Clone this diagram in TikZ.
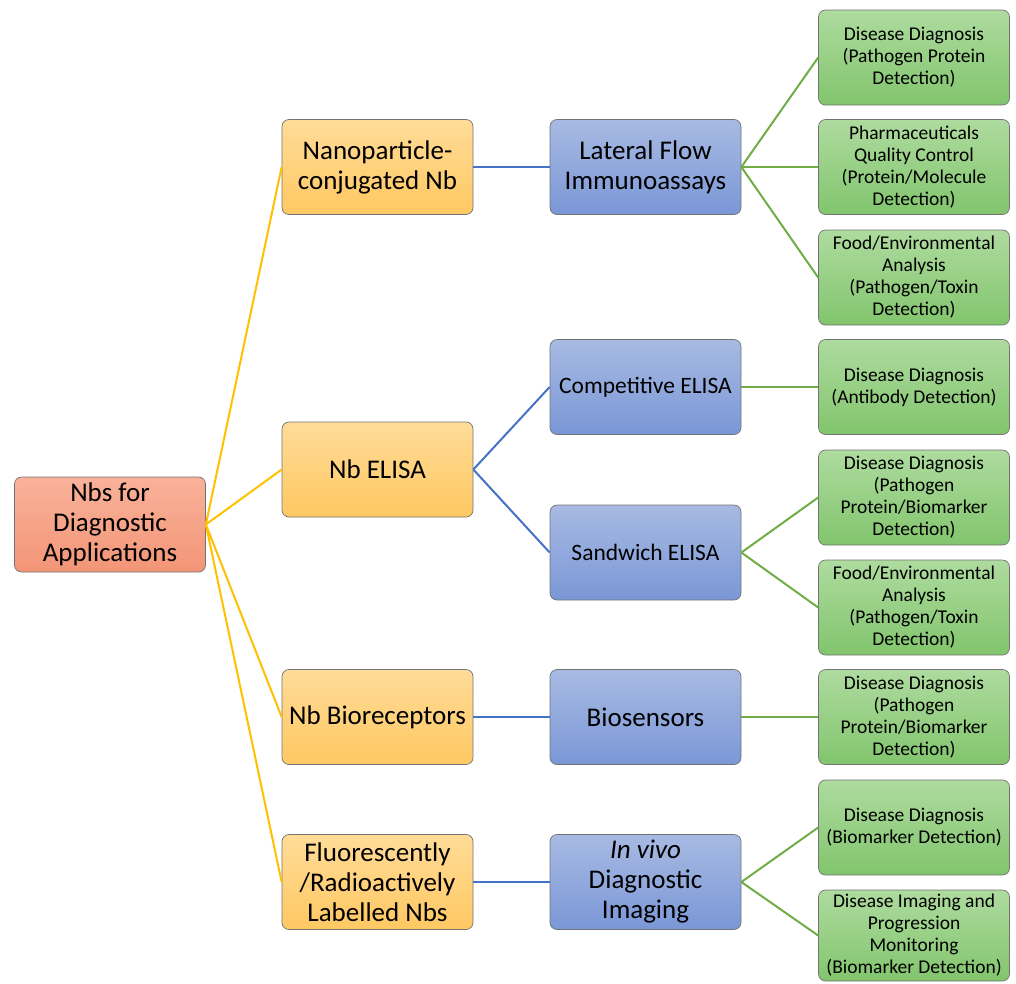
\documentclass[tikz,border=0pt]{standalone}
\usepackage{fontspec}
\setmainfont{Carlito}
\begin{document}
\begin{tikzpicture}[x=1pt,y=-1pt,
  box/.style={draw=black!55, line width=0.7pt, rounded corners=7pt, minimum width=191pt, minimum height=95pt, align=center, inner sep=1pt},
  rootbox/.style={box, top color=rootT, bottom color=rootB, font=\fontsize{27}{30}\selectfont},
  ybox/.style={box, top color=yelT, bottom color=yelB, font=\fontsize{27}{30}\selectfont},
  bbox/.style={box, top color=bluT, bottom color=bluB, font=\fontsize{27}{30}\selectfont},
  bboxs/.style={box, top color=bluT, bottom color=bluB, font=\fontsize{23.5}{28}\selectfont},
  gbox/.style={box, top color=grnT, bottom color=grnB, font=\fontsize{19.5}{22}\selectfont},
  yline/.style={draw=lineY, line width=2pt},
  bline/.style={draw=lineB, line width=2pt},
  gline/.style={draw=lineG, line width=2pt}
]
\definecolor{rootT}{HTML}{F9B29A}
\definecolor{rootB}{HTML}{F39577}
\definecolor{yelT}{HTML}{FFDC98}
\definecolor{yelB}{HTML}{FFC862}
\definecolor{bluT}{HTML}{A8BAE3}
\definecolor{bluB}{HTML}{7A97D6}
\definecolor{grnT}{HTML}{AEDB9F}
\definecolor{grnB}{HTML}{82C56D}
\definecolor{lineY}{HTML}{FFC000}
\definecolor{lineB}{HTML}{4472C4}
\definecolor{lineG}{HTML}{70AD47}
\useasboundingbox (0,0) rectangle (1016,983);

% root
\node[rootbox] (root) at (110,524.5) {Nbs for\\Diagnostic\\Applications};

% level 1
\node[ybox] (y1) at (377.5,167) {Nanoparticle-\\conjugated Nb};
\node[ybox] (y2) at (377.5,469.5) {Nb ELISA};
\node[ybox] (y3) at (377.5,717) {Nb Bioreceptors};
\node[ybox] (y4) at (377.5,882) {Fluorescently\\/Radioactively\\Labelled Nbs};

% level 2
\node[bbox] (b1) at (645.5,167) {Lateral Flow\\Immunoassays};
\node[bboxs] (b2) at (645.5,387) {Competitive ELISA};
\node[bboxs] (b3) at (645.5,552.5) {Sandwich ELISA};
\node[bbox] (b4) at (645.5,717) {Biosensors};
\node[bbox] (b5) at (645.5,882) {\textit{In vivo}\\Diagnostic\\Imaging};

% level 3
\node[gbox] (g1) at (914,57.5) {Disease Diagnosis\\(Pathogen Protein\\Detection)};
\node[gbox] (g2) at (914,167) {Pharmaceuticals\\Quality Control\\(Protein/Molecule\\Detection)};
\node[gbox] (g3) at (914,277.5) {Food/Environmental\\Analysis\\(Pathogen/Toxin\\Detection)};
\node[gbox] (g4) at (914,387) {Disease Diagnosis\\(Antibody Detection)};
\node[gbox] (g5) at (914,497.5) {Disease Diagnosis\\(Pathogen\\Protein/Biomarker\\Detection)};
\node[gbox] (g6) at (914,607.5) {Food/Environmental\\Analysis\\(Pathogen/Toxin\\Detection)};
\node[gbox] (g7) at (914,717) {Disease Diagnosis\\(Pathogen\\Protein/Biomarker\\Detection)};
\node[gbox] (g8) at (914,827.5) {Disease Diagnosis\\(Biomarker Detection)};
\node[gbox, minimum height=91pt] (g9) at (914,935.5) {Disease Imaging and\\Progression\\Monitoring\\(Biomarker Detection)};

% connectors
\foreach \t in {y1,y2,y3,y4} \draw[yline] (root.east) -- (\t.west);
\draw[bline] (y1.east) -- (b1.west);
\draw[bline] (y2.east) -- (b2.west);
\draw[bline] (y2.east) -- (b3.west);
\draw[bline] (y3.east) -- (b4.west);
\draw[bline] (y4.east) -- (b5.west);
\foreach \t in {g1,g2,g3} \draw[gline] (b1.east) -- (\t.west);
\draw[gline] (b2.east) -- (g4.west);
\foreach \t in {g5,g6} \draw[gline] (b3.east) -- (\t.west);
\draw[gline] (b4.east) -- (g7.west);
\foreach \t in {g8,g9} \draw[gline] (b5.east) -- (\t.west);
\end{tikzpicture}
\end{document}
